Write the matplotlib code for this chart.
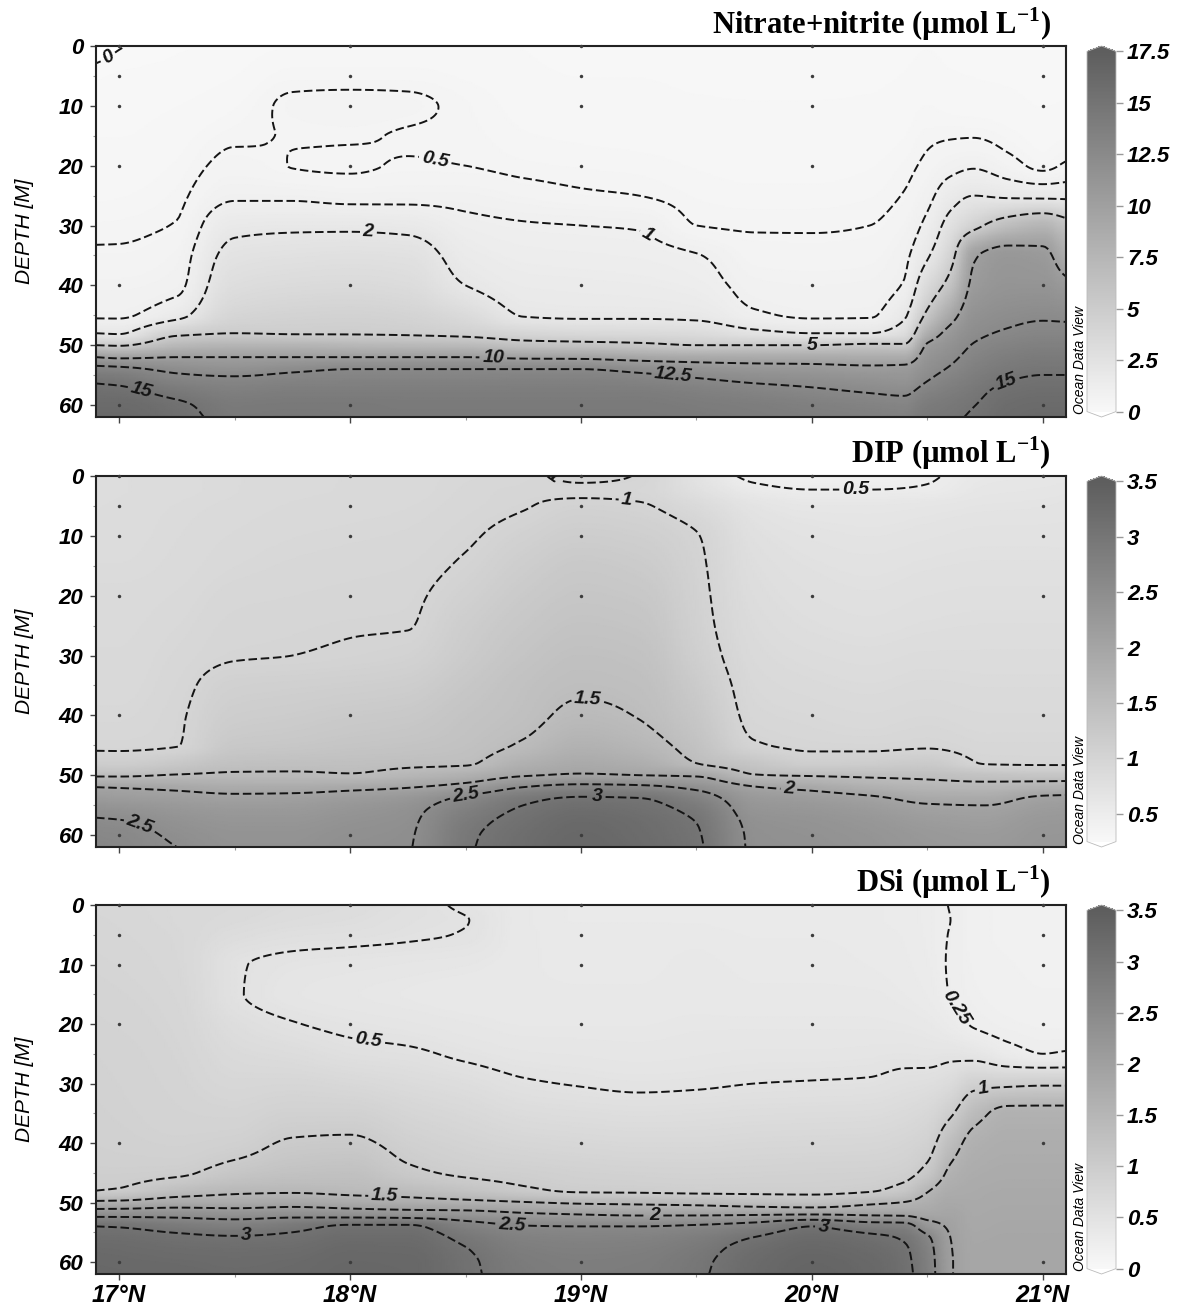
import numpy as np
import matplotlib
matplotlib.use("Agg")
import matplotlib.pyplot as plt
from matplotlib.colors import LinearSegmentedColormap, Normalize
from matplotlib.cm import ScalarMappable

plt.rcParams['font.family'] = 'Liberation Sans'
plt.rcParams['font.weight'] = 'bold'
plt.rcParams['font.style'] = 'italic'

# grid: one row per latitude node, one value per depth node
depth_nodes = [0, 2.5, 5, 10, 15, 20, 25, 30, 35, 40, 45, 48, 50, 52, 54, 56, 58, 60, 62]
lat_nodes = [16.9, 17.0, 17.25, 17.5, 17.75, 18.0, 18.25, 18.5, 18.75, 19.0, 19.25, 19.5,
             19.75, 20.0, 20.25, 20.4, 20.5, 20.6, 20.7, 20.85, 21.0, 21.1]
lat_nodes_dip = [16.9, 17.0, 17.25, 17.5, 17.75, 18.0, 18.25, 18.5, 18.75, 19.0, 19.25, 19.5,
                 19.75, 20.0, 20.25, 20.5, 20.75, 21.0, 21.1]

nitrate_nitrite = [
    [-0.08, -0.01, 0.05, 0.15, 0.2, 0.25, 0.32, 0.42, 0.55, 0.72, 0.93, 2.0, 5.0, 10.0, 13.2, 14.8, 15.6, 16.0, 16.2],
    [-0.01, 0.03, 0.08, 0.15, 0.2, 0.26, 0.33, 0.43, 0.55, 0.72, 0.93, 1.9, 4.8, 9.6, 13.0, 14.6, 15.5, 16.0, 16.2],
    [0.05, 0.08, 0.12, 0.2, 0.28, 0.35, 0.43, 0.52, 0.7, 0.85, 1.6, 4.5, 7.0, 10.0, 12.0, 13.3, 14.5, 15.3, 15.6],
    [0.1, 0.15, 0.2, 0.32, 0.45, 0.6, 0.9, 1.7, 2.4, 3.0, 3.9, 5.0, 7.5, 10.0, 11.6, 13.0, 13.8, 14.3, 14.5],
    [0.2, 0.3, 0.38, 0.56, 0.51, 0.495, 0.88, 1.8, 2.6, 3.3, 4.2, 4.9, 7.5, 10.0, 12.1, 13.3, 14.0, 14.4, 14.6],
    [0.25, 0.31, 0.38, 0.6, 0.52, 0.47, 0.78, 1.8, 2.7, 3.4, 4.3, 4.9, 7.2, 10.0, 12.5, 13.4, 14.0, 14.4, 14.5],
    [0.25, 0.31, 0.38, 0.57, 0.48, 0.52, 0.8, 1.7, 2.6, 3.2, 4.1, 4.8, 7.0, 10.0, 12.5, 13.4, 14.0, 14.3, 14.4],
    [0.25, 0.28, 0.32, 0.42, 0.44, 0.5, 0.78, 1.2, 1.55, 2.0, 3.3, 4.5, 6.8, 10.0, 12.5, 13.4, 14.0, 14.3, 14.4],
    [0.2, 0.22, 0.25, 0.3, 0.35, 0.43, 0.65, 1.05, 1.3, 1.55, 1.95, 3.8, 6.0, 9.6, 12.5, 13.5, 14.0, 14.3, 14.4],
    [0.15, 0.17, 0.2, 0.26, 0.32, 0.4, 0.55, 1.0, 1.25, 1.5, 1.85, 3.5, 5.8, 9.5, 12.5, 13.5, 14.0, 14.3, 14.4],
    [0.15, 0.17, 0.2, 0.25, 0.3, 0.38, 0.5, 0.95, 1.2, 1.45, 1.85, 3.4, 5.5, 9.0, 12.0, 13.3, 14.0, 14.3, 14.4],
    [0.15, 0.16, 0.18, 0.22, 0.27, 0.33, 0.4, 0.5, 1.03, 1.3, 1.75, 3.2, 5.0, 8.7, 11.4, 12.8, 13.7, 14.1, 14.3],
    [0.15, 0.16, 0.18, 0.21, 0.25, 0.3, 0.37, 0.47, 0.62, 0.8, 1.1, 2.4, 5.0, 8.6, 11.0, 12.3, 13.3, 13.9, 14.1],
    [0.15, 0.16, 0.18, 0.21, 0.25, 0.3, 0.37, 0.47, 0.6, 0.75, 0.93, 2.0, 5.0, 8.6, 10.8, 12.0, 12.9, 13.6, 13.9],
    [0.15, 0.16, 0.18, 0.22, 0.27, 0.33, 0.4, 0.5, 0.63, 0.78, 0.95, 2.0, 5.4, 8.5, 10.5, 11.6, 12.5, 13.3, 13.7],
    [0.18, 0.19, 0.21, 0.27, 0.33, 0.42, 0.52, 0.68, 0.88, 1.05, 1.8, 3.0, 5.3, 8.5, 10.6, 11.4, 12.3, 13.1, 13.6],
    [0.2, 0.22, 0.26, 0.34, 0.44, 0.58, 0.82, 1.2, 1.85, 3.3, 5.6, 8.2, 10.3, 11.2, 11.8, 12.5, 13.4, 14.1, 14.5],
    [0.18, 0.19, 0.22, 0.3, 0.47, 0.8, 1.5, 2.6, 4.1, 6.0, 9.0, 10.8, 11.5, 12.1, 12.7, 13.4, 14.0, 14.5, 14.75],
    [0.15, 0.17, 0.2, 0.28, 0.48, 0.93, 2.0, 4.3, 9.7, 10.5, 11.5, 12.1, 12.6, 13.1, 13.6, 14.1, 14.6, 14.95, 15.2],
    [0.13, 0.15, 0.18, 0.25, 0.38, 0.65, 1.8, 6.5, 10.9, 11.3, 12.1, 12.7, 13.3, 13.9, 14.4, 15.0, 15.5, 15.8, 16.0],
    [0.12, 0.13, 0.15, 0.2, 0.28, 0.42, 1.7, 7.5, 10.6, 11.3, 12.3, 13.0, 13.6, 14.2, 14.7, 15.3, 15.7, 16.0, 16.2],
    [0.12, 0.14, 0.16, 0.22, 0.33, 0.55, 1.7, 6.0, 8.4, 10.6, 12.2, 13.0, 13.6, 14.2, 14.7, 15.3, 15.7, 16.0, 16.2],
]

dip = [
    [0.82, 0.82, 0.83, 0.85, 0.86, 0.88, 0.89, 0.90, 0.91, 0.93, 0.97, 1.15, 1.45, 2.00, 2.22, 2.42, 2.55, 2.62, 2.66],
    [0.83, 0.83, 0.84, 0.85, 0.86, 0.88, 0.89, 0.90, 0.91, 0.93, 0.97, 1.14, 1.45, 1.98, 2.20, 2.40, 2.53, 2.60, 2.63],
    [0.85, 0.85, 0.86, 0.87, 0.88, 0.90, 0.92, 0.94, 0.96, 0.98, 0.995, 1.25, 1.52, 1.92, 2.15, 2.30, 2.40, 2.46, 2.50],
    [0.87, 0.87, 0.88, 0.90, 0.92, 0.95, 0.97, 0.99, 1.08, 1.15, 1.25, 1.40, 1.55, 1.85, 2.10, 2.25, 2.33, 2.38, 2.40],
    [0.88, 0.89, 0.90, 0.92, 0.94, 0.96, 0.98, 1.00, 1.10, 1.18, 1.28, 1.42, 1.55, 1.85, 2.12, 2.25, 2.33, 2.38, 2.40],
    [0.90, 0.90, 0.91, 0.93, 0.95, 0.97, 0.99, 1.02, 1.12, 1.22, 1.32, 1.43, 1.52, 1.90, 2.20, 2.33, 2.40, 2.44, 2.46],
    [0.91, 0.91, 0.92, 0.94, 0.96, 0.98, 0.995, 1.05, 1.15, 1.25, 1.35, 1.45, 1.62, 1.98, 2.30, 2.42, 2.46, 2.48, 2.49],
    [0.93, 0.94, 0.95, 0.98, 1.02, 1.08, 1.15, 1.20, 1.28, 1.35, 1.40, 1.47, 1.75, 2.15, 2.60, 2.78, 2.88, 2.93, 2.95],
    [0.95, 0.97, 0.99, 1.07, 1.15, 1.22, 1.28, 1.34, 1.40, 1.43, 1.53, 1.75, 1.97, 2.50, 2.92, 3.05, 3.12, 3.16, 3.18],
    [1.04, 0.97, 1.05, 1.15, 1.24, 1.30, 1.36, 1.42, 1.47, 1.55, 1.72, 1.88, 2.03, 2.65, 3.05, 3.18, 3.25, 3.28, 3.30],
    [0.99, 0.96, 1.02, 1.12, 1.20, 1.27, 1.33, 1.39, 1.44, 1.49, 1.62, 1.80, 2.00, 2.60, 3.02, 3.12, 3.18, 3.20, 3.22],
    [0.70, 0.76, 0.88, 1.01, 1.04, 1.06, 1.08, 1.12, 1.20, 1.28, 1.38, 1.50, 1.95, 2.40, 2.75, 2.92, 3.00, 3.03, 3.05],
    [0.45, 0.56, 0.68, 0.76, 0.80, 0.83, 0.86, 0.89, 0.92, 0.95, 1.02, 1.30, 1.52, 2.02, 2.25, 2.35, 2.42, 2.45, 2.46],
    [0.40, 0.51, 0.62, 0.70, 0.74, 0.77, 0.80, 0.84, 0.88, 0.92, 0.97, 1.12, 1.47, 1.90, 2.18, 2.30, 2.37, 2.40, 2.42],
    [0.40, 0.51, 0.62, 0.68, 0.72, 0.75, 0.78, 0.82, 0.86, 0.90, 0.96, 1.15, 1.44, 1.75, 2.08, 2.22, 2.30, 2.34, 2.36],
    [0.47, 0.53, 0.64, 0.70, 0.74, 0.77, 0.80, 0.84, 0.88, 0.92, 0.98, 1.20, 1.42, 1.65, 1.92, 2.10, 2.20, 2.26, 2.28],
    [0.60, 0.63, 0.67, 0.72, 0.75, 0.78, 0.81, 0.84, 0.87, 0.90, 0.94, 0.99, 1.35, 1.62, 1.90, 2.07, 2.16, 2.22, 2.25],
    [0.62, 0.65, 0.68, 0.72, 0.75, 0.78, 0.81, 0.84, 0.87, 0.90, 0.94, 0.98, 1.30, 1.70, 2.08, 2.20, 2.27, 2.30, 2.32],
    [0.63, 0.66, 0.69, 0.72, 0.75, 0.78, 0.81, 0.84, 0.87, 0.90, 0.94, 0.98, 1.30, 1.72, 2.10, 2.22, 2.28, 2.31, 2.33],
]

dsi = [
    [0.76, 0.77, 0.78, 0.80, 0.82, 0.84, 0.86, 0.87, 0.88, 0.90, 0.94, 1.00, 1.60, 2.35, 3.00, 3.15, 3.22, 3.25, 3.27],
    [0.75, 0.76, 0.77, 0.79, 0.81, 0.83, 0.85, 0.86, 0.87, 0.89, 0.94, 1.02, 1.62, 2.35, 2.98, 3.14, 3.21, 3.24, 3.26],
    [0.72, 0.72, 0.73, 0.74, 0.76, 0.78, 0.80, 0.82, 0.84, 0.87, 0.96, 1.28, 1.75, 2.35, 2.85, 3.08, 3.17, 3.22, 3.25],
    [0.70, 0.68, 0.63, 0.52, 0.52, 0.60, 0.68, 0.75, 0.82, 0.90, 1.12, 1.42, 1.75, 2.30, 2.75, 3.04, 3.15, 3.20, 3.22],
    [0.66, 0.63, 0.57, 0.46, 0.43, 0.51, 0.63, 0.76, 0.88, 1.03, 1.22, 1.45, 1.82, 2.35, 2.88, 3.08, 3.17, 3.22, 3.24],
    [0.63, 0.60, 0.55, 0.44, 0.40, 0.46, 0.56, 0.72, 0.88, 1.05, 1.25, 1.40, 1.75, 2.30, 3.05, 3.18, 3.25, 3.28, 3.30],
    [0.56, 0.54, 0.52, 0.42, 0.38, 0.43, 0.53, 0.66, 0.79, 0.91, 1.06, 1.33, 1.68, 2.25, 3.05, 3.18, 3.24, 3.27, 3.28],
    [0.47, 0.505, 0.49, 0.40, 0.36, 0.40, 0.47, 0.60, 0.72, 0.83, 0.96, 1.20, 1.62, 2.20, 2.70, 2.92, 3.02, 3.06, 3.07],
    [0.36, 0.36, 0.36, 0.36, 0.36, 0.38, 0.43, 0.52, 0.64, 0.77, 0.92, 1.05, 1.53, 2.07, 2.52, 2.70, 2.78, 2.83, 2.85],
    [0.34, 0.34, 0.35, 0.35, 0.36, 0.38, 0.42, 0.49, 0.61, 0.74, 0.88, 0.97, 1.45, 2.00, 2.50, 2.66, 2.74, 2.78, 2.80],
    [0.34, 0.34, 0.35, 0.35, 0.36, 0.38, 0.41, 0.47, 0.59, 0.72, 0.86, 0.96, 1.42, 1.95, 2.50, 2.68, 2.76, 2.80, 2.82],
    [0.34, 0.34, 0.35, 0.36, 0.37, 0.39, 0.42, 0.48, 0.60, 0.72, 0.85, 0.94, 1.38, 1.95, 2.55, 2.78, 2.88, 2.93, 2.95],
    [0.33, 0.33, 0.34, 0.35, 0.36, 0.39, 0.43, 0.50, 0.62, 0.74, 0.86, 0.94, 1.30, 1.97, 2.70, 3.02, 3.15, 3.20, 3.22],
    [0.33, 0.33, 0.34, 0.35, 0.36, 0.39, 0.43, 0.51, 0.63, 0.75, 0.87, 0.94, 1.25, 2.00, 3.00, 3.20, 3.28, 3.32, 3.34],
    [0.32, 0.32, 0.33, 0.34, 0.36, 0.39, 0.44, 0.52, 0.64, 0.76, 0.88, 0.98, 1.42, 1.95, 2.75, 3.10, 3.20, 3.25, 3.27],
    [0.30, 0.30, 0.31, 0.32, 0.34, 0.38, 0.45, 0.56, 0.68, 0.80, 0.92, 1.12, 1.52, 1.93, 2.70, 2.96, 3.05, 3.08, 3.10],
    [0.28, 0.28, 0.28, 0.29, 0.31, 0.36, 0.44, 0.58, 0.74, 0.88, 1.10, 1.47, 1.67, 1.85, 2.20, 2.58, 2.68, 2.72, 2.74],
    [0.245, 0.25, 0.245, 0.24, 0.245, 0.30, 0.45, 0.66, 0.95, 1.30, 1.58, 1.72, 1.80, 1.88, 1.95, 2.00, 2.02, 2.03, 2.03],
    [0.19, 0.19, 0.19, 0.20, 0.21, 0.24, 0.42, 0.88, 1.35, 1.62, 1.72, 1.76, 1.78, 1.80, 1.82, 1.84, 1.85, 1.86, 1.86],
    [0.17, 0.17, 0.17, 0.18, 0.19, 0.21, 0.30, 0.92, 1.60, 1.70, 1.75, 1.78, 1.80, 1.82, 1.84, 1.85, 1.86, 1.87, 1.87],
    [0.16, 0.16, 0.16, 0.17, 0.18, 0.20, 0.25, 0.95, 1.60, 1.70, 1.75, 1.78, 1.80, 1.82, 1.84, 1.85, 1.86, 1.87, 1.87],
    [0.16, 0.16, 0.16, 0.17, 0.18, 0.20, 0.26, 0.95, 1.60, 1.70, 1.75, 1.78, 1.80, 1.82, 1.84, 1.85, 1.86, 1.87, 1.87],
]

no3_levels = [0, 0.5, 1, 2, 5, 10, 12.5, 15]
dip_levels = [0.5, 1, 1.5, 2, 2.5, 3]
dsi_levels = [0.25, 0.5, 1, 1.5, 2, 2.5, 3]

no3_ticks = [0, 2.5, 5, 7.5, 10, 12.5, 15, 17.5]
dip_ticks = [0.5, 1, 1.5, 2, 2.5, 3, 3.5]
dsi_ticks = [0, 0.5, 1, 1.5, 2, 2.5, 3, 3.5]

station_lat = [17, 18, 19, 20, 21]
station_depth = [0, 5, 10, 20, 40, 60]
lat_labels = ['17°N', '18°N', '19°N', '20°N', '21°N']

# where each contour label sits (lat, depth)
no3_label_pos = [(16.97, 3.0), (18.37, 18.8), (19.3, 30.7), (18.08, 30.7), (20.0, 50.0),
                 (18.62, 52.2), (19.4, 55.0), (17.1, 57.0), (20.84, 56.0)]
dip_label_pos = [(18.86, 0.8), (19.2, 3.8), (20.19, 2.3), (19.03, 37.0), (19.9, 52.3),
                 (18.5, 52.6), (17.1, 57.2), (19.07, 53.3)]
dsi_label_pos = [(18.08, 23.0), (20.6, 18.0), (20.74, 30.6), (18.15, 49.4), (19.32, 52.2),
                 (18.7, 53.7), (17.55, 54.6), (20.05, 54.0)]

odv_gray = LinearSegmentedColormap.from_list('odv_gray', ['#f8f8f8', '#5e5e5e'])
odv_gray = odv_gray.with_extremes(under='#ffffff', over='#5e5e5e')


def pchip(x, y, xn):
    # monotone cubic (Fritsch-Carlson) along axis 0 of y
    x = np.asarray(x, float)
    y = np.asarray(y, float)
    h = np.diff(x)
    delta = np.diff(y, axis=0) / h[:, None]
    d = np.zeros_like(y)
    for k in range(1, len(x) - 1):
        a, b = delta[k - 1], delta[k]
        w1, w2 = 2 * h[k] + h[k - 1], h[k] + 2 * h[k - 1]
        ok = a * b > 0
        d[k] = np.where(ok, (w1 + w2) / (w1 / np.where(ok, a, 1) + w2 / np.where(ok, b, 1)), 0)
    d[0], d[-1] = delta[0], delta[-1]
    i = np.clip(np.searchsorted(x, xn) - 1, 0, len(x) - 2)
    t = ((xn - x[i]) / h[i])[:, None]
    hi = h[i][:, None]
    return ((2 * t**3 - 3 * t**2 + 1) * y[i] + (t**3 - 2 * t**2 + t) * hi * d[i]
            + (-2 * t**3 + 3 * t**2) * y[i + 1] + (t**3 - t**2) * hi * d[i + 1])


lat_fine = np.linspace(16.9, 21.1, 421)
dep_fine = np.linspace(0, 62, 311)


def grid_field(lats, values):
    v = np.asarray(values, float)            # (lat, depth)
    v = pchip(depth_nodes, v.T, dep_fine)     # (dep_fine, lat)
    v = pchip(lats, v.T, lat_fine)            # (lat_fine, dep_fine)
    return v.T                                # (dep_fine, lat_fine)


fig = plt.figure(figsize=(11.83, 13.14), dpi=100)
W, H = 1183.0, 1314.0

panels = [
    (46, 417, lat_nodes, nitrate_nitrite, no3_levels, 0, 17.5, no3_ticks,
     'Nitrate+nitrite (µmol L$^{\\mathregular{-1}}$)', 34, no3_label_pos),
    (476, 847, lat_nodes_dip, dip, dip_levels, 0.25, 3.5, dip_ticks,
     'DIP (µmol L$^{\\mathregular{-1}}$)', 463, dip_label_pos),
    (905, 1274, lat_nodes, dsi, dsi_levels, 0, 3.5, dsi_ticks,
     'DSi (µmol L$^{\\mathregular{-1}}$)', 892, dsi_label_pos),
]

for k, (top, bot, lats, vals, levels, vmin, vmax, cticks, title, base, lpos) in enumerate(panels):
    ax = fig.add_axes([96 / W, 1 - bot / H, 970 / W, (bot - top) / H])
    cax = fig.add_axes([1087 / W, 1 - bot / H, 29 / W, (bot - top) / H])

    ax.set_xlim(16.9, 21.1)
    ax.set_ylim(62, 0)

    z = grid_field(lats, vals)
    ax.pcolormesh(lat_fine, dep_fine, z, shading='gouraud', cmap=odv_gray,
                  vmin=vmin, vmax=vmax, rasterized=True)
    cs = ax.contour(lat_fine, dep_fine, z, levels=levels, colors='#141414', linewidths=1.4)
    cs.set_linestyle((0, (4.4, 1.9)))
    labels = ax.clabel(cs, levels=levels, manual=lpos, inline=True, inline_spacing=3,
                       fmt=lambda v: f'{v:g}', fontsize=14, colors='#141414')
    for t in labels:
        t.set_fontstyle('italic')
        t.set_fontweight('bold')

    slat, sdep = np.meshgrid(station_lat, station_depth)
    ax.plot(slat.ravel(), sdep.ravel(), 'o', ms=2.5, color='#3c3c3c', mec='none',
            clip_on=False, zorder=5)

    ax.set_yticks(range(0, 61, 10))
    ax.set_yticks(range(5, 60, 10), minor=True)
    ax.set_xticks(station_lat)
    ax.set_xticks([17.5, 18.5, 19.5, 20.5], minor=True)
    ax.tick_params(which='major', direction='out', length=4, width=1, color='#444',
                   labelsize=16, pad=5)
    ax.tick_params(which='minor', direction='out', length=2.5, width=0.8, color='#999')
    ax.tick_params(axis='x', pad=3)
    if k < 2:
        ax.tick_params(axis='x', labelbottom=False)
    else:
        ax.set_xticklabels(lat_labels, fontsize=17.5)
    for s in ax.spines.values():
        s.set_linewidth(1.5)
        s.set_color('#222222')

    ax.set_ylabel('DEPTH [M]', fontsize=15)
    ax.yaxis.set_label_coords(-0.064, 0.5)

    sm = ScalarMappable(Normalize(vmin, vmax), odv_gray)
    cb = fig.colorbar(sm, cax=cax, extend='both', extendfrac=0.015, ticks=cticks)
    cb.ax.set_yticklabels([f'{t:g}' for t in cticks])
    cb.ax.tick_params(length=5, width=1, color='#999999', labelsize=16, pad=3)
    cb.outline.set_edgecolor('#bbbbbb')
    cb.outline.set_linewidth(0.6)

    fig.text(1080 / W, 1 - (bot - 3) / H, 'Ocean Data View', rotation=90, ha='center',
             va='bottom', fontsize=10, fontweight='normal', fontstyle='italic')
    fig.text(1051 / W, 1 - base / H, title, ha='right', va='baseline',
             family='Liberation Serif', fontweight='bold', fontstyle='normal', fontsize=22)

fig.savefig('out.png', dpi=100)
